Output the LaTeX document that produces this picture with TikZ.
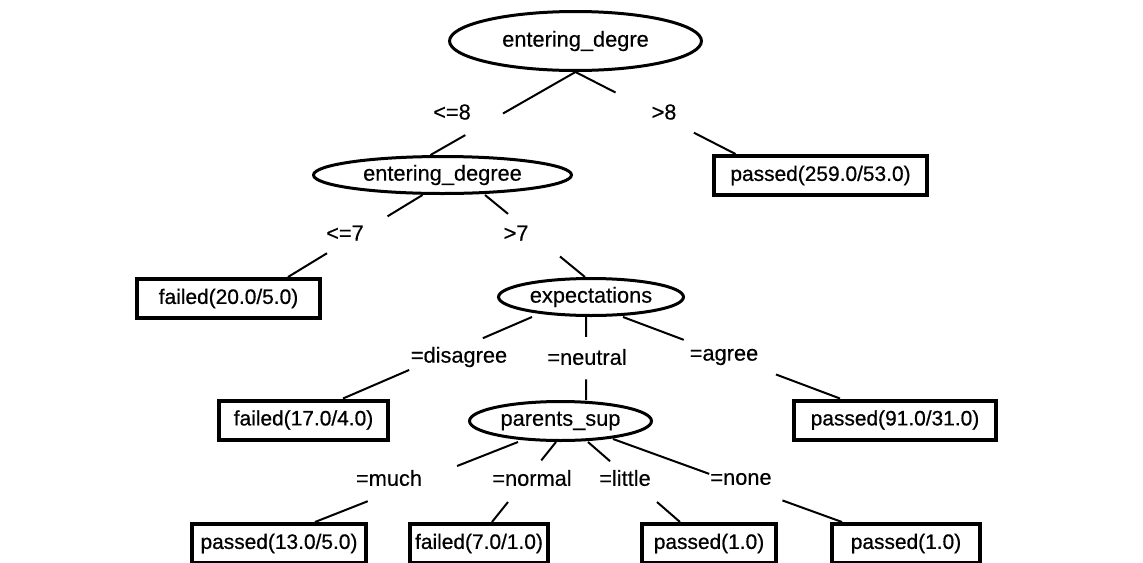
\documentclass[tikz,border=0pt]{standalone}
\usepackage{fontspec}
\setmainfont{Liberation Sans}[FakeBold=0.35]
\newfontfamily\leaffont{Liberation Sans}[FakeBold=0.7]
\usetikzlibrary{shapes.geometric,calc}

\begin{document}
\begin{tikzpicture}[x=0.02cm,y=-0.02cm,
  attr/.style={ellipse,draw,line width=0.06cm,inner sep=0pt,font=\fontsize{12.4}{14}\selectfont},
  leaf/.style={rectangle,draw,line width=0.08cm,inner sep=0pt,minimum height=0.78cm,font=\leaffont\fontsize{11.9}{14}\selectfont},
  cond/.style={inner sep=0pt,font=\fontsize{12.4}{14}\selectfont},
  edge/.style={line width=0.04cm}]
\useasboundingbox (0,0) rectangle (1143,562);
\node[attr,minimum width=5.04cm,minimum height=1.18cm] (root) at (575.5,41) {entering\_degre};
\node[attr,minimum width=5.16cm,minimum height=0.74cm] (deg2) at (442.5,175) {entering\_degree};
\node[attr,minimum width=3.7cm,minimum height=0.74cm] (exp) at (591,297) {expectations};
\node[attr,minimum width=3.64cm,minimum height=0.78cm] (ps) at (560.5,421) {parents\_sup};
\node[leaf,minimum width=4.26cm] (p259) at (820.5,175.5) {passed(259.0/53.0)};
\node[leaf,minimum width=3.66cm] (f20) at (228.5,298.5) {failed(20.0/5.0)};
\node[leaf,minimum width=3.38cm] (f17) at (303.5,420) {failed(17.0/4.0)};
\node[leaf,minimum width=4.04cm] (p91) at (895,420) {passed(91.0/31.0)};
\node[leaf,minimum width=3.48cm] (p13) at (279,543.5) {passed(13.0/5.0)};
\node[leaf,minimum width=2.76cm] (f7) at (479,543.5) {failed(7.0/1.0)};
\node[leaf,minimum width=2.68cm] (p1a) at (709,543.5) {passed(1.0)};
\node[leaf,minimum width=2.96cm] (p1b) at (906,543.5) {passed(1.0)};

\coordinate (d2in) at ($(deg2.north)+(-12,0)$);
\coordinate (p259in) at ($(p259.north)+(-85,0)$);
\coordinate (d2l) at ($(deg2.south)+(-20,0)$);
\coordinate (d2r) at ($(deg2.south)+(42.5,0)$);
\coordinate (f20in) at ($(f20.north)+(59.5,0)$);
\coordinate (expin) at ($(exp.north)+(-6,0)$);
\coordinate (exl) at ($(exp.south)+(-59,0)$);
\coordinate (exm) at ($(exp.south)+(-5,0)$);
\coordinate (exr) at ($(exp.south)+(32,0)$);
\coordinate (f17in) at ($(f17.north)+(39.5,0)$);
\coordinate (psin) at ($(ps.north)+(25.5,0)$);
\coordinate (p91in) at ($(p91.north)+(-55,0)$);
\coordinate (psa) at ($(ps.south)+(-42.5,0)$);
\coordinate (psb) at ($(ps.south)+(-4.5,0)$);
\coordinate (psc) at ($(ps.south)+(27.5,0)$);
\coordinate (psd) at ($(ps.south)+(52.5,-3)$);
\coordinate (p13in) at ($(p13.north)+(36,0)$);
\coordinate (f7in) at ($(f7.north)+(13,0)$);
\coordinate (p1ain) at ($(p1a.north)+(-29,0)$);
\coordinate (p1bin) at ($(p1b.north)+(-64,0)$);

\draw[edge] (root.south) -- ($(root.south)!.5!(d2in)$) ($(root.south)!.76!(d2in)$) -- (d2in);
\draw[edge] (root.south) -- ($(root.south)!.25!(p259in)$) ($(root.south)!.74!(p259in)$) -- (p259in);
\draw[edge] (d2l) -- ($(d2l)!.26!(f20in)$) ($(d2l)!.71!(f20in)$) -- (f20in);
\draw[edge] (d2r) -- ($(d2r)!.23!(expin)$) ($(d2r)!.75!(expin)$) -- (expin);
\draw[edge] (exl) -- ($(exl)!.26!(f17in)$) ($(exl)!.65!(f17in)$) -- (f17in);
\draw[edge] (exm) -- ($(exm)!.24!(psin)$) ($(exm)!.75!(psin)$) -- (psin);
\draw[edge] (exr) -- ($(exr)!.28!(p91in)$) ($(exr)!.705!(p91in)$) -- (p91in);
\draw[edge] (psa) -- ($(psa)!.3!(p13in)$) ($(psa)!.74!(p13in)$) -- (p13in);
\draw[edge] (psb) -- ($(psb)!.23!(f7in)$) ($(psb)!.75!(f7in)$) -- (f7in);
\draw[edge] (psc) -- ($(psc)!.24!(p1ain)$) ($(psc)!.75!(p1ain)$) -- (p1ain);
\draw[edge] (psd) -- ($(psd)!.42!(p1bin)$) ($(psd)!.74!(p1bin)$) -- (p1bin);

\node[cond] (le8) at (452,112) {<=8};
\node[cond] (gt8) at (664,112) {>8};
\node[cond] (le7) at (345,233) {<=7};
\node[cond] (gt7) at (516,233) {>7};
\node[cond] (disagree) at (459,357) {=disagree};
\node[cond] (neutral) at (587,357) {=neutral};
\node[cond] (agree) at (724,357) {=agree};
\node[cond] (much) at (389,478) {=much};
\node[cond] (normal) at (532,478) {=normal};
\node[cond] (little) at (625,478) {=little};
\node[cond] (none) at (741,479) {=none};
\end{tikzpicture}
\end{document}
